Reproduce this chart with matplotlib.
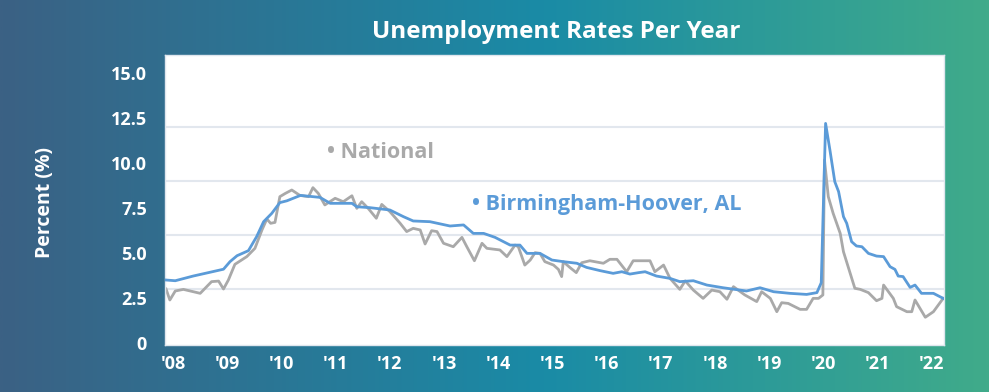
import matplotlib.pyplot as plt
import numpy as np
from matplotlib.colors import LinearSegmentedColormap


# decimal year, percent
NATIONAL_YEARS = [
    2007.87, 2007.94, 2008.04, 2008.19, 2008.50, 2008.71, 2008.84, 2008.93, 2009.02, 2009.14,
    2009.36, 2009.51, 2009.64, 2009.73, 2009.80, 2009.88, 2009.97, 2010.07, 2010.19, 2010.34,
    2010.50, 2010.58, 2010.68, 2010.80, 2010.99, 2011.14, 2011.30, 2011.39, 2011.48, 2011.60,
    2011.75, 2011.85, 2012.00, 2012.19, 2012.31, 2012.43, 2012.56, 2012.65, 2012.77, 2012.87,
    2012.99, 2013.17, 2013.33, 2013.42, 2013.56, 2013.70, 2013.79, 2014.03, 2014.16, 2014.31,
    2014.37, 2014.49, 2014.59, 2014.68, 2014.77, 2014.86, 2015.02, 2015.11, 2015.17, 2015.20,
    2015.32, 2015.44, 2015.54, 2015.69, 2015.94, 2016.06, 2016.19, 2016.37, 2016.49, 2016.80,
    2016.89, 2017.05, 2017.17, 2017.35, 2017.45, 2017.60, 2017.78, 2017.94, 2018.09, 2018.22,
    2018.34, 2018.55, 2018.77, 2018.86, 2019.02, 2019.14, 2019.23, 2019.35, 2019.57, 2019.69,
    2019.81, 2019.91, 2019.99, 2020.02, 2020.09, 2020.18, 2020.31, 2020.37, 2020.58, 2020.68,
    2020.83, 2020.98, 2021.08, 2021.11, 2021.29, 2021.35, 2021.54, 2021.63, 2021.69, 2021.88,
    2022.03, 2022.21,
]
NATIONAL_RATES = [
    3.00, 2.39, 2.89, 2.98, 2.76, 3.41, 3.44, 3.00, 3.50, 4.37,
    4.80, 5.26, 6.28, 6.89, 6.65, 6.70, 8.13, 8.31, 8.50, 8.20,
    8.13, 8.63, 8.31, 7.67, 8.04, 7.85, 8.18, 7.48, 7.85, 7.48,
    6.93, 7.70, 7.30, 6.65, 6.19, 6.37, 6.28, 5.50, 6.24, 6.19,
    5.54, 5.35, 5.87, 5.35, 4.57, 5.54, 5.26, 5.17, 4.80, 5.44,
    5.35, 4.33, 4.61, 5.02, 4.98, 4.52, 4.33, 4.09, 3.69, 4.52,
    4.20, 3.91, 4.46, 4.57, 4.43, 4.65, 4.65, 3.96, 4.57, 4.57,
    3.96, 4.33, 3.59, 2.98, 3.45, 2.94, 2.48, 2.94, 2.85, 2.43,
    3.13, 2.67, 2.30, 2.85, 2.48, 1.74, 2.24, 2.20, 1.87, 1.87,
    2.48, 2.48, 2.67, 10.17, 8.13, 7.20, 6.09, 5.07, 3.04, 2.98,
    2.80, 2.35, 2.48, 3.22, 2.48, 2.02, 1.74, 1.74, 2.39, 1.43,
    1.74, 2.48,
]

BHAM_YEARS = [
    2007.87, 2008.04, 2008.37, 2008.68, 2008.93, 2009.05, 2009.18, 2009.39, 2009.54, 2009.67,
    2009.82, 2009.97, 2010.10, 2010.35, 2010.71, 2010.90, 2011.30, 2011.39, 2011.63, 2012.00,
    2012.25, 2012.43, 2012.74, 2013.11, 2013.36, 2013.54, 2013.73, 2013.94, 2014.22, 2014.40,
    2014.53, 2014.77, 2014.99, 2015.20, 2015.45, 2015.63, 2015.88, 2016.12, 2016.28, 2016.43,
    2016.59, 2016.71, 2016.92, 2017.17, 2017.35, 2017.60, 2017.85, 2018.15, 2018.58, 2018.83,
    2019.08, 2019.38, 2019.69, 2019.88, 2019.96, 2020.04, 2020.12, 2020.21, 2020.28, 2020.37,
    2020.43, 2020.52, 2020.61, 2020.71, 2020.83, 2020.98, 2021.11, 2021.23, 2021.32, 2021.38,
    2021.47, 2021.60, 2021.69, 2021.81, 2022.03, 2022.21,
]
BHAM_RATES = [
    3.50, 3.46, 3.72, 3.93, 4.10, 4.52, 4.85, 5.13, 5.90, 6.74,
    7.20, 7.80, 7.90, 8.20, 8.09, 7.76, 7.76, 7.57, 7.52, 7.39,
    7.02, 6.78, 6.74, 6.50, 6.56, 6.09, 6.09, 5.87, 5.44, 5.44,
    4.98, 4.98, 4.61, 4.52, 4.43, 4.20, 4.02, 3.87, 3.96, 3.83,
    3.91, 3.96, 3.72, 3.59, 3.41, 3.46, 3.22, 3.07, 2.89, 3.07,
    2.85, 2.76, 2.70, 2.80, 3.35, 12.20, 10.72, 8.96, 8.41, 7.02,
    6.65, 5.63, 5.39, 5.35, 4.98, 4.83, 4.80, 4.24, 4.09, 3.72,
    3.69, 3.09, 3.22, 2.76, 2.76, 2.48,
]

X_TICKS = list(range(2008, 2023))
X_LABELS = ["'" + str(y)[2:] for y in X_TICKS]
Y_TICKS = [0, 2.5, 5, 7.5, 10, 12.5, 15]
Y_LABELS = ["0", "2.5", "5.0", "7.5", "10.0", "12.5", "15.0"]
GRID_LEVELS = [3, 6, 9, 12]

BLUE = "#5b9bd8"
GREY = "#a9a9a9"
FONT = "Open Sans"

fig = plt.figure(figsize=(9.89, 3.92), dpi=100)

# gradient background
bg = fig.add_axes([0, 0, 1, 1], zorder=0)
cmap = LinearSegmentedColormap.from_list(
    "bg", [(0.0, "#3b6184"), (0.55, "#1a8ba6"), (1.0, "#40ab8a")]
)
bg.imshow(np.linspace(0, 1, 512).reshape(1, -1), aspect="auto", cmap=cmap,
          extent=[0, 1, 0, 1])
bg.set_axis_off()

ax = fig.add_axes([0.1668, 0.1199, 0.7877, 0.7398], zorder=1)
ax.set_facecolor("white")
for spine in ax.spines.values():
    spine.set_color("#dfe6ee")
    spine.set_linewidth(1.0)

for level in GRID_LEVELS:
    ax.axhline(level, color="#e2e7ee", linewidth=1.5, zorder=1)

ax.plot(NATIONAL_YEARS, NATIONAL_RATES, color=GREY, linewidth=2.0, zorder=2)
ax.plot(BHAM_YEARS, BHAM_RATES, color=BLUE, linewidth=2.0, zorder=3)

ax.text(2010.84, 10.56, "• National", color=GREY, fontsize=15.5, fontweight="bold",
        family=FONT, ha="left", va="center")
ax.text(2013.52, 7.67, "• Birmingham-Hoover, AL", color=BLUE, fontsize=15.5,
        fontweight="bold", family=FONT, ha="left", va="center")

ax.set_xlim(2007.85, 2022.225)
ax.set_ylim(-0.11, 16.0)
ax.set_xticks(X_TICKS)
ax.set_xticklabels(X_LABELS)
ax.set_yticks(Y_TICKS)
ax.set_yticklabels(Y_LABELS)
ax.tick_params(axis="both", length=0, colors="white", labelsize=13)
ax.tick_params(axis="y", pad=13)
ax.tick_params(axis="x", pad=7)
for lab in ax.get_xticklabels() + ax.get_yticklabels():
    lab.set_fontweight("bold")
    lab.set_family(FONT)

fig.text(45 / 989, 1 - 203 / 392, "Percent (%)", rotation=90, color="white",
         fontsize=14, fontweight="bold", family=FONT, ha="center", va="center")
fig.text(556 / 989, 1 - 32 / 392, "Unemployment Rates Per Year", color="white",
         fontsize=17.5, fontweight="bold", family=FONT, ha="center", va="center")

fig.savefig("out.png", dpi=100)
